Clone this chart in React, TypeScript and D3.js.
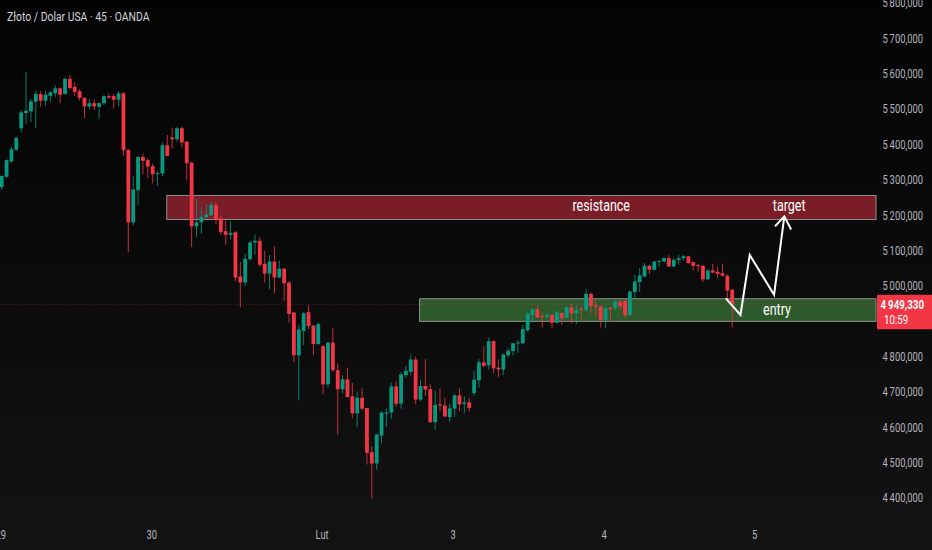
import React from 'react';
import * as d3 from 'd3';

const W = 932;
const H = 550;
const PLOT_RIGHT = 876;

const title = 'Złoto / Dolar USA · 45 · OANDA';

// [open, high, low, close] per 45 minute bar
const ohlc: [number, number, number, number][] = [
  [5281, 5314, 5272, 5312], [5310, 5359, 5307, 5357], [5353, 5395, 5351, 5388], [5386, 5423, 5384, 5420],
  [5447, 5497, 5435, 5492], [5490, 5606, 5459, 5497], [5495, 5530, 5465, 5523], [5522, 5553, 5447, 5544],
  [5544, 5552, 5508, 5525], [5525, 5552, 5511, 5542], [5539, 5552, 5522, 5549], [5546, 5568, 5536, 5560],
  [5560, 5563, 5518, 5542], [5544, 5590, 5542, 5587], [5587, 5599, 5556, 5561], [5564, 5577, 5539, 5550],
  [5552, 5558, 5525, 5533], [5533, 5535, 5476, 5509], [5509, 5530, 5501, 5518], [5518, 5528, 5499, 5509],
  [5508, 5520, 5473, 5518], [5518, 5541, 5513, 5538], [5538, 5546, 5530, 5534], [5538, 5544, 5503, 5528],
  [5528, 5552, 5509, 5546], [5546, 5549, 5369, 5385], [5386, 5388, 5096, 5181], [5181, 5312, 5173, 5274],
  [5272, 5369, 5230, 5366], [5366, 5376, 5317, 5355], [5357, 5362, 5307, 5339], [5340, 5347, 5291, 5317],
  [5319, 5326, 5284, 5320], [5319, 5407, 5312, 5399], [5399, 5428, 5367, 5369], [5421, 5449, 5390, 5416],
  [5416, 5452, 5409, 5447], [5447, 5452, 5393, 5407], [5409, 5411, 5301, 5348], [5350, 5351, 5111, 5170],
  [5170, 5248, 5140, 5181], [5181, 5224, 5149, 5197], [5195, 5232, 5194, 5203], [5201, 5241, 5198, 5230],
  [5230, 5238, 5175, 5189], [5192, 5198, 5146, 5154], [5156, 5186, 5118, 5146], [5146, 5184, 5132, 5151],
  [5153, 5156, 5014, 5025], [5028, 5069, 4941, 5011], [5011, 5092, 5001, 5078], [5077, 5129, 5075, 5124],
  [5124, 5146, 5089, 5129], [5129, 5140, 5056, 5061], [5064, 5101, 5011, 5036], [5036, 5089, 4992, 5070],
  [5070, 5113, 4981, 5025], [5025, 5073, 5023, 5050], [5050, 5052, 4959, 5009], [5011, 5014, 4898, 4922],
  [4926, 4928, 4786, 4805], [4805, 4891, 4677, 4878], [4874, 4928, 4834, 4924], [4927, 4947, 4878, 4888],
  [4889, 4891, 4805, 4837], [4837, 4898, 4834, 4893], [4831, 4834, 4695, 4723], [4723, 4843, 4714, 4841],
  [4841, 4883, 4758, 4763], [4763, 4782, 4581, 4709], [4709, 4749, 4697, 4737], [4737, 4770, 4685, 4687],
  [4689, 4727, 4627, 4641], [4641, 4703, 4602, 4685], [4685, 4711, 4649, 4654], [4656, 4657, 4496, 4529],
  [4531, 4547, 4398, 4499], [4499, 4583, 4481, 4581], [4578, 4647, 4556, 4643], [4641, 4654, 4602, 4643],
  [4643, 4728, 4624, 4717], [4717, 4732, 4659, 4668], [4668, 4758, 4654, 4751], [4749, 4774, 4742, 4761],
  [4758, 4808, 4749, 4793], [4793, 4801, 4666, 4680], [4680, 4736, 4676, 4718], [4718, 4794, 4689, 4708],
  [4709, 4723, 4613, 4616], [4616, 4706, 4594, 4665], [4666, 4711, 4647, 4663], [4663, 4685, 4630, 4632],
  [4630, 4668, 4616, 4655], [4654, 4697, 4630, 4692], [4692, 4711, 4647, 4666], [4668, 4689, 4641, 4672],
  [4672, 4684, 4646, 4656], [4698, 4760, 4692, 4736], [4734, 4794, 4714, 4785], [4785, 4831, 4772, 4775],
  [4777, 4855, 4765, 4845], [4845, 4848, 4755, 4768], [4770, 4793, 4744, 4765], [4765, 4810, 4749, 4807],
  [4805, 4824, 4799, 4818], [4817, 4840, 4805, 4839], [4839, 4848, 4812, 4841], [4839, 4891, 4837, 4879],
  [4876, 4928, 4872, 4922], [4919, 4938, 4897, 4935], [4935, 4947, 4910, 4912], [4916, 4926, 4884, 4913],
  [4914, 4924, 4910, 4919], [4919, 4922, 4881, 4897], [4897, 4931, 4895, 4926], [4924, 4926, 4891, 4910],
  [4911, 4943, 4910, 4941], [4941, 4950, 4895, 4924], [4924, 4945, 4893, 4933], [4936, 4943, 4905, 4933],
  [4933, 4992, 4928, 4979], [4979, 4982, 4924, 4945], [4947, 4962, 4914, 4943], [4943, 4945, 4884, 4905],
  [4905, 4943, 4881, 4938], [4939, 4943, 4900, 4936], [4938, 4962, 4931, 4957], [4957, 4960, 4933, 4943],
  [4959, 4962, 4910, 4919], [4919, 4988, 4917, 4985], [4984, 5033, 4966, 5014], [5012, 5052, 4984, 5031],
  [5028, 5066, 5026, 5058], [5058, 5061, 5035, 5047], [5047, 5073, 5045, 5070], [5070, 5073, 5056, 5072],
  [5070, 5083, 5069, 5080], [5080, 5089, 5055, 5056], [5056, 5080, 5055, 5075], [5075, 5089, 5061, 5080],
  [5080, 5089, 5073, 5085], [5085, 5087, 5064, 5066], [5068, 5070, 5045, 5058], [5060, 5064, 5042, 5057],
  [5058, 5061, 5012, 5020], [5020, 5049, 5018, 5045], [5045, 5064, 5037, 5039], [5041, 5056, 5023, 5035],
  [5037, 5064, 5028, 5030], [5030, 5033, 4966, 4988], [4990, 4993, 4884, 4949.33],
];

const lastPrice = 4949.33;
const countdown = '10:59';

// day labels on the time axis, in bar index units
const dayLabels = ['29', '30', 'Lut', '3', '4', '5'];
const dayIndex = [-0.2, 30.8, 65.8, 92.7, 123.7, 154.6];

// drawn zones
const resistance = { start: 33.9, lo: 5189, hi: 5257, label: 'resistance', labelAt: 123.1 };
const entry = { start: 85.8, lo: 4901, hi: 4965 };
const targetLabel = { text: 'target', at: 161.7 };
const entryLabel = { text: 'entry', at: 159.2 };

// hand drawn projection: [bar index, price]
const projection: [number, number][] = [
  [148.7, 4966], [151.7, 4919], [153.6, 5089], [158.6, 4976], [160.7, 5198],
];
const arrowHead: [number, number][] = [[158.8, 5170], [160.7, 5198], [162.1, 5161]];

const GREEN = '#089981';
const RED = '#f23645';
const FONT = 'Roboto, "Noto Sans", sans-serif';

const plLocale = d3.formatLocale({ decimal: ',', thousands: '\u2009', grouping: [3], currency: ['', ''] });
const fmt = plLocale.format(',.3f');

// the screenshot's type is narrow, so squeeze it horizontally
const Txt = ({ x, y, sx = 0.78, children, ...rest }: any) => (
  <text transform={`translate(${x},${y}) scale(${sx},1)`} fontFamily={FONT} {...rest}>
    {children}
  </text>
);

export default function App() {
  const x = d3.scaleLinear().domain([0, 150]).range([1.7, 732.2]);
  const y = d3.scaleLinear().domain([4400, 5800]).range([498.5, 3.5]);
  const bodyW = 3.8;

  const line = d3.line<[number, number]>().x((d) => x(d[0])).y((d) => y(d[1]));

  const tagY = y(lastPrice);
  const tagTop = tagY - 9.5;
  const tagBottom = tagY + 25;

  const zoneRect = (z: { start: number; lo: number; hi: number }, fill: string) => (
    <rect
      x={x(z.start)}
      y={y(z.hi)}
      width={PLOT_RIGHT - x(z.start)}
      height={y(z.lo) - y(z.hi)}
      fill={fill}
      stroke="#8f8f8f"
      strokeWidth={1}
    />
  );

  const resMid = (y(resistance.lo) + y(resistance.hi)) / 2 - 2;
  const entryMid = (y(entry.lo) + y(entry.hi)) / 2;

  return (
    <div style={{ position: 'absolute', left: 0, top: 0 }}>
      <svg width={W} height={H} style={{ display: 'block' }}>
        <defs>
          <linearGradient id="bg" x1="0" y1="0" x2="0" y2="1">
            <stop offset="0" stopColor="#030303" />
            <stop offset="1" stopColor="#131313" />
          </linearGradient>
        </defs>
        <rect width={W} height={H} fill="url(#bg)" />

        {zoneRect(resistance, '#7a1d26')}
        {zoneRect(entry, '#2d5a2b')}

        <line
          x1={0}
          x2={PLOT_RIGHT}
          y1={tagY}
          y2={tagY}
          stroke={RED}
          strokeOpacity={0.45}
          strokeDasharray="1 2"
        />

        {ohlc.map(([o, h, l, c], i) => {
          const col = c >= o ? GREEN : RED;
          const top = y(Math.max(o, c));
          const bh = Math.max(1, y(Math.min(o, c)) - top);
          return (
            <g key={i}>
              <line x1={x(i)} x2={x(i)} y1={y(h)} y2={y(l)} stroke={col} strokeWidth={1} strokeOpacity={0.8} />
              <rect x={x(i) - bodyW / 2} y={top} width={bodyW} height={bh} fill={col} />
            </g>
          );
        })}

        <path d={line(projection) || ''} fill="none" stroke="#ffffff" strokeWidth={2} strokeLinejoin="miter" />
        <path d={line(arrowHead) || ''} fill="none" stroke="#ffffff" strokeWidth={2} />

        <Txt x={x(resistance.labelAt)} y={resMid} fill="#ffffff" fontSize={16} textAnchor="middle" dominantBaseline="central">
          {resistance.label}
        </Txt>
        <Txt x={x(targetLabel.at)} y={resMid} fill="#ffffff" fontSize={16} textAnchor="middle" dominantBaseline="central">
          {targetLabel.text}
        </Txt>
        <Txt x={x(entryLabel.at)} y={entryMid} fill="#ffffff" fontSize={16} textAnchor="middle" dominantBaseline="central">
          {entryLabel.text}
        </Txt>

        {/* price axis */}
        {y.ticks(14)
          .filter((t) => y(t) < tagTop - 6 || y(t) > tagBottom + 6)
          .map((t) => (
            <Txt key={t} x={923} y={y(t)} fill="#b2b5be" fontSize={12} textAnchor="end" dominantBaseline="central">
              {fmt(t)}
            </Txt>
          ))}

        <rect x={PLOT_RIGHT + 1} y={tagTop} width={W - PLOT_RIGHT - 1} height={tagBottom - tagTop} fill={RED} />
        <Txt x={924} y={tagY + 0.5} fill="#ffffff" fontSize={12.5} fontWeight="bold" textAnchor="end" dominantBaseline="central">
          {fmt(lastPrice)}
        </Txt>
        <Txt x={884} y={tagY + 16} fill="#ffffff" fontSize={12.5} textAnchor="start" dominantBaseline="central">
          {countdown}
        </Txt>

        {/* time axis */}
        {dayLabels.map((d, i) => (
          <Txt key={d} x={x(dayIndex[i])} y={535} fill="#b2b5be" fontSize={12} textAnchor="middle" dominantBaseline="central">
            {d}
          </Txt>
        ))}

        <Txt x={7} y={17} sx={0.8} fill="#d1d4dc" fontSize={13} dominantBaseline="central">
          {title}
        </Txt>
      </svg>
    </div>
  );
}
